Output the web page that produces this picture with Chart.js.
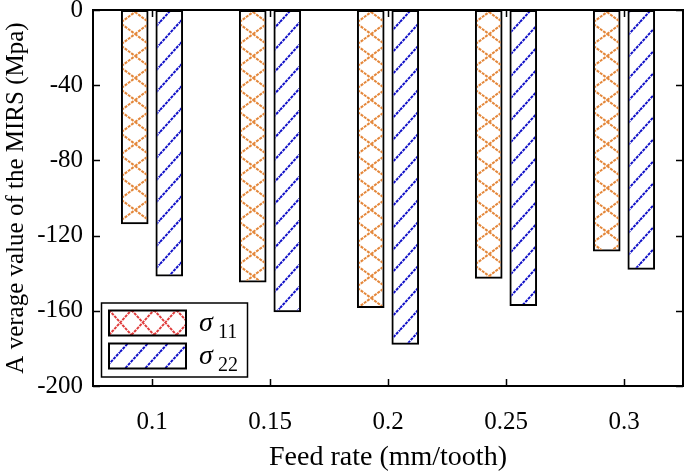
<!DOCTYPE html>
<html>
<head>
<meta charset="utf-8">
<script src="https://cdn.jsdelivr.net/npm/chart.js@4/dist/chart.umd.min.js"></script>
<style>
  html, body { margin: 0; padding: 0; background: #fff; }
  #wrap { width: 685px; height: 473px; }
</style>
</head>
<body>
<div id="wrap"><canvas id="chart" width="685" height="473"></canvas></div>
<script>
// data
const feedRates = ['0.1', '0.15', '0.2', '0.25', '0.3'];
const sigma11 = [-113.9, -145, -158.5, -142.9, -128.5];
const sigma22 = [-141.8, -160.8, -178, -157.4, -138.1];
const yMin = -200;
const yMax = 0;
const yStep = 40;

const serif = "'Liberation Serif', 'Times New Roman', serif";
const orange = '#e4873a';
const blue = '#1010c8';
const red = '#e03c3c';

// diamond lattice tile, crossings every `dw` px horizontally and `h` px vertically
function latticeTile(color, w, dw, h) {
    const c = document.createElement('canvas');
    c.width = w; c.height = h;
    const g = c.getContext('2d');
    g.strokeStyle = color;
    g.lineWidth = 2;
    g.setLineDash([3, 1]);
    for (let k = -1; k * dw < w + dw; k++) {
        g.beginPath();
        g.moveTo(k * dw, 0); g.lineTo((k + 1) * dw, h);
        g.moveTo(k * dw, h); g.lineTo((k + 1) * dw, 0);
        g.stroke();
    }
    return c;
}

// "/" hatching tile
function hatchTile(color, w, h) {
    const c = document.createElement('canvas');
    c.width = w; c.height = h;
    const g = c.getContext('2d');
    g.strokeStyle = color;
    g.lineWidth = 2;
    g.setLineDash([3, 1]);
    for (let k = -1; k <= 1; k++) {
        g.beginPath();
        g.moveTo(k * w, h); g.lineTo((k + 1) * w, 0);
        g.stroke();
    }
    return c;
}

const tmp = document.createElement('canvas').getContext('2d');
const orangeFill = tmp.createPattern(latticeTile(orange, 118, 29.5, 22), 'repeat');
orangeFill.setTransform(new DOMMatrix([1, 0, 0, 1, 135, 12]));
const blueFill = tmp.createPattern(hatchTile(blue, 20, 22), 'repeat');
const redFill = tmp.createPattern(latticeTile(red, 90, 22.5, 25), 'repeat');
redFill.setTransform(new DOMMatrix([1, 0, 0, 1, 109, 310]));

const boxPlugin = {
    id: 'boxPlugin',
    afterDraw(chart) {
        const { ctx, chartArea: a, scales: { x, y } } = chart;
        ctx.save();
        ctx.strokeStyle = '#000';
        ctx.lineWidth = 2;
        ctx.strokeRect(a.left, a.top, a.right - a.left, a.bottom - a.top);

        // inward ticks on all four sides
        ctx.lineWidth = 1.5;
        ctx.beginPath();
        y.ticks.forEach((t, i) => {
            const py = Math.round(y.getPixelForTick(i)) + 0.5;
            ctx.moveTo(a.left, py); ctx.lineTo(a.left + 7, py);
            ctx.moveTo(a.right, py); ctx.lineTo(a.right - 7, py);
        });
        x.ticks.forEach((t, i) => {
            const px = Math.round(x.getPixelForTick(i)) + 0.5;
            ctx.moveTo(px, a.bottom); ctx.lineTo(px, a.bottom - 7);
            ctx.moveTo(px, a.top); ctx.lineTo(px, a.top + 7);
        });
        ctx.stroke();

        // legend
        const lx = a.left + 8.5, ly = a.bottom - 83;
        ctx.lineWidth = 1.5;
        ctx.fillStyle = '#fff';
        ctx.fillRect(lx, ly, 146, 74);
        ctx.strokeRect(lx, ly, 146, 74);

        const items = [
            { fill: redFill, label: 'σ', sub: '11', dy: 7.5 },
            { fill: blueFill, label: 'σ', sub: '22', dy: 40.5 }
        ];
        items.forEach(it => {
            const bx = a.left + 16, by = ly + it.dy;
            ctx.fillStyle = '#fff';
            ctx.fillRect(bx, by, 77, 25);
            ctx.fillStyle = it.fill;
            ctx.fillRect(bx, by, 77, 25);
            ctx.lineWidth = 2;
            ctx.strokeRect(bx, by, 77, 25);
            ctx.fillStyle = '#000';
            ctx.textBaseline = 'alphabetic';
            ctx.font = 'italic 28px ' + serif;
            ctx.fillText(it.label, bx + 90, by + 20);
            ctx.font = '20px ' + serif;
            ctx.fillText(it.sub, bx + 109, by + 27);
        });
        ctx.restore();
    }
};

new Chart(document.getElementById('chart'), {
    type: 'bar',
    data: {
        labels: feedRates,
        datasets: [
            {
                label: 'σ11',
                data: sigma11,
                backgroundColor: orangeFill,
                borderColor: '#000',
                borderWidth: 2,
                borderSkipped: false
            },
            {
                label: 'σ22',
                data: sigma22,
                backgroundColor: blueFill,
                borderColor: '#000',
                borderWidth: 2,
                borderSkipped: false
            }
        ]
    },
    options: {
        responsive: false,
        devicePixelRatio: 1,
        animation: false,
        layout: { padding: { top: 10, right: 2, left: 0, bottom: 0 } },
        datasets: {
            bar: { categoryPercentage: 0.585, barPercentage: 0.8 }
        },
        plugins: {
            legend: { display: false },
            tooltip: { enabled: false }
        },
        scales: {
            x: {
                grid: { display: false, drawTicks: false },
                border: { display: false },
                ticks: { color: '#000', font: { family: serif, size: 25 }, padding: 21 },
                title: {
                    display: true,
                    text: 'Feed rate (mm/tooth)',
                    color: '#000',
                    font: { family: serif, size: 28, lineHeight: 1 },
                    padding: { top: 0, bottom: 1 }
                },
                afterFit(scale) {
                    scale.height = 87;
                    scale.paddingLeft = 0;
                    scale.paddingRight = 0;
                }
            },
            y: {
                min: yMin,
                max: yMax,
                grid: { display: false, drawTicks: false },
                border: { display: false },
                ticks: { stepSize: yStep, color: '#000', font: { family: serif, size: 25 }, padding: 10 },
                title: {
                    display: true,
                    text: 'A verage value of the MIRS (Mpa)',
                    color: '#000',
                    font: { family: serif, size: 25, lineHeight: 1 },
                    padding: { top: 4, bottom: 0 }
                },
                afterFit(scale) {
                    scale.width = 93;
                    scale.paddingTop = 0;
                    scale.paddingBottom = 0;
                }
            }
        }
    },
    plugins: [boxPlugin]
});
</script>
</body>
</html>
